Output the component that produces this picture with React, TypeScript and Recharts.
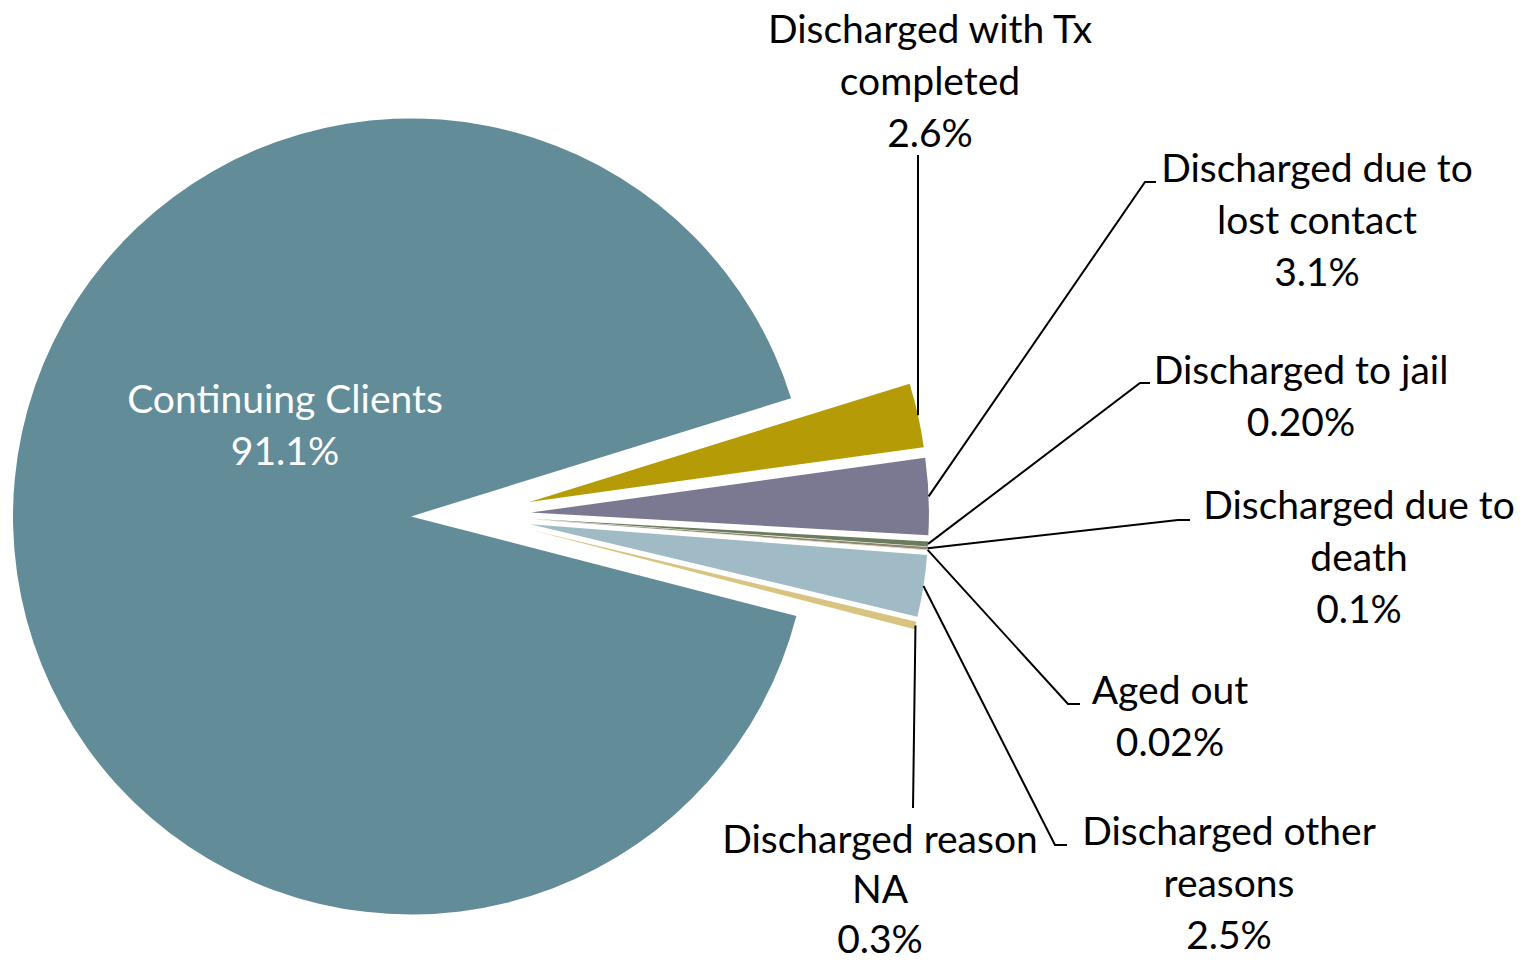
import React from 'react';
import { PieChart, Pie, Cell } from 'recharts';

const categories = [
  'Continuing Clients',
  'Discharged with Tx completed',
  'Discharged due to lost contact',
  'Discharged to jail',
  'Discharged due to death',
  'Aged out',
  'Discharged other reasons',
  'Discharged reason NA',
];
const percents = [91.1, 2.6, 3.1, 0.2, 0.1, 0.02, 2.5, 0.3];
const percentLabels = ['91.1%', '2.6%', '3.1%', '0.20%', '0.1%', '0.02%', '2.5%', '0.3%'];

const colors = ['#618C98', '#B59C06', '#7B7891', '#6B7C5C', '#8E8672', '#C9B98A', '#A0BBC5', '#D8C47F'];

// pie geometry (every slice pulled out from the centre along its bisector)
const CX = 471;
const CY = 515;
const RADIUS = 398;
const EXPLODE = 60;
const START = 345.5;

// where the data labels sit, wrapped like the original
const labelLayout = [
  { lines: ['Continuing Clients'], x: 285, y: 413, fill: '#ffffff', leader: [] as number[][] },
  { lines: ['Discharged with Tx', 'completed'], x: 930, y: 43, fill: '#000', leader: [[918, 155]] },
  { lines: ['Discharged due to', 'lost contact'], x: 1317, y: 182, fill: '#000', leader: [[1145, 182], [1156, 182]] },
  { lines: ['Discharged to jail'], x: 1301, y: 384, fill: '#000', leader: [[1140, 383], [1150, 383]] },
  { lines: ['Discharged due to', 'death'], x: 1359, y: 519, fill: '#000', leader: [[1178, 520], [1190, 520]] },
  { lines: ['Aged out'], x: 1170, y: 704, fill: '#000', leader: [[1068, 704], [1080, 704]] },
  { lines: ['Discharged other', 'reasons'], x: 1229, y: 845, fill: '#000', leader: [[1055, 845], [1067, 845]] },
  { lines: ['Discharged reason', 'NA'], x: 880, y: 853, fill: '#000', leader: [[913, 808]] },
];

const LINE_H = 52;
const FONT = 'Lato, "Open Sans", sans-serif';

const data = categories.map((name, i) => ({ name, value: percents[i] }));

const total = percents.reduce((a, b) => a + b, 0);
const midAngles: number[] = [];
{
  let acc = 0;
  percents.forEach((v) => {
    const a0 = START - (acc / total) * 360;
    acc += v;
    const a1 = START - (acc / total) * 360;
    midAngles.push((a0 + a1) / 2);
  });
}

const RAD = Math.PI / 180;

const renderLabel = (k: number) => (props: any) => {
  if (props.index !== k) return null;
  const lay = labelLayout[k];
  const sx = props.cx + props.outerRadius * Math.cos(-props.midAngle * RAD);
  const sy = props.cy + props.outerRadius * Math.sin(-props.midAngle * RAD);
  const pts = lay.leader.length ? [[sx, sy], ...lay.leader] : [];
  const textLines = [...lay.lines, percentLabels[k]];
  // last label sits right on the bottom edge, so its lines are a touch tighter
  const lh = k === 7 ? 50 : LINE_H;
  return (
    <g>
      {pts.length > 0 && (
        <polyline
          points={pts.map((p) => p.join(',')).join(' ')}
          fill="none"
          stroke="#000"
          strokeWidth={2}
        />
      )}
      {textLines.map((t, j) => (
        <text
          key={j}
          x={lay.x}
          y={lay.y + j * lh}
          textAnchor="middle"
          fontFamily={FONT}
          fontSize={39}
          fill={lay.fill}
        >
          {t}
        </text>
      ))}
    </g>
  );
};

export default function App() {
  return (
    <div style={{ position: 'absolute', left: 0, top: 0, width: 1537, height: 965, background: '#fff' }}>
      <PieChart width={1537} height={965} margin={{ top: 0, right: 0, bottom: 0, left: 0 }}>
        {percents.map((_, k) => (
          <Pie
            key={k}
            data={data}
            dataKey="value"
            nameKey="name"
            cx={CX + EXPLODE * Math.cos(midAngles[k] * RAD)}
            cy={CY - EXPLODE * Math.sin(midAngles[k] * RAD)}
            outerRadius={RADIUS}
            startAngle={START}
            endAngle={START - 360}
            stroke="none"
            labelLine={false}
            label={renderLabel(k)}
            isAnimationActive={false}
          >
            {data.map((_, i) => (
              <Cell key={i} fill={i === k ? colors[i] : 'none'} stroke="none" />
            ))}
          </Pie>
        ))}
      </PieChart>
    </div>
  );
}
